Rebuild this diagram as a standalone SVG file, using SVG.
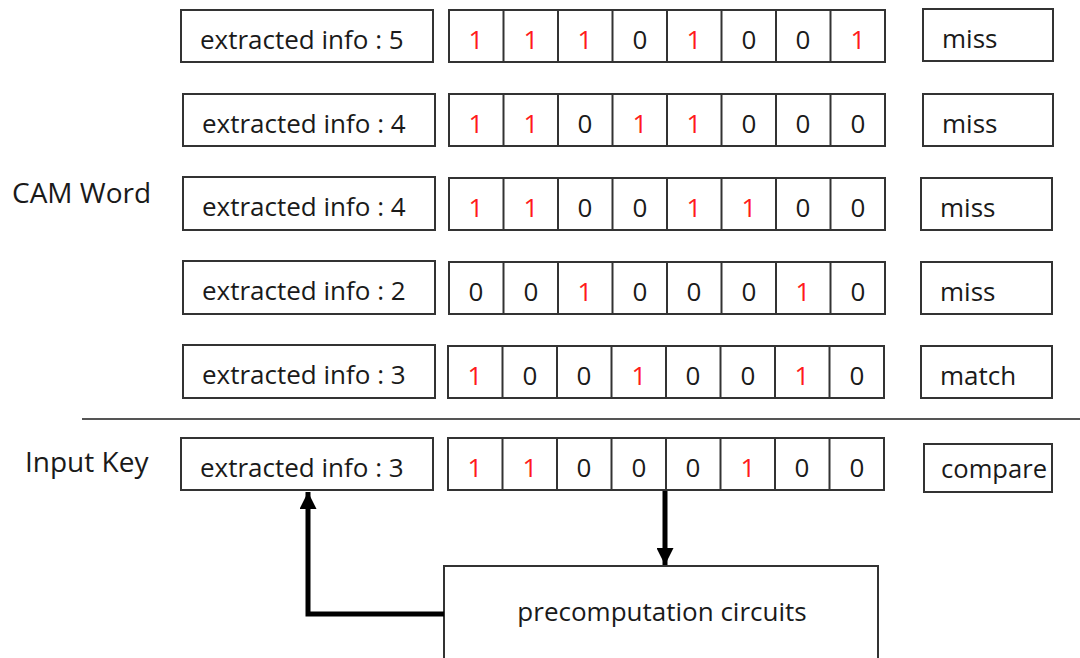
<svg xmlns="http://www.w3.org/2000/svg" width="1080" height="658" viewBox="0 0 1080 658">
  <defs>
    <style>
      .box { fill: #ffffff; stroke: #333333; stroke-width: 2; }
      .div { stroke: #333333; stroke-width: 2; }
      .t { font-family: "Open Sans", "Noto Sans", sans-serif; font-size: 26px; fill: #1a1a1a; }
      .lbl { font-size: 28px; }
      .one { fill: #ff1a1a; }
      .mid { text-anchor: middle; }
      .wire { fill: none; stroke: #000000; stroke-width: 5; }
      .rule { stroke: #555555; stroke-width: 2; }
    </style>
    <marker id="head" viewBox="0 0 10 10" refX="10" refY="5" markerWidth="3.4" markerHeight="3.4" markerUnits="strokeWidth" orient="auto">
      <path d="M0,0 L10,5 L0,10 Z" fill="#000000"/>
    </marker>
    <!-- eight-cell bit register, 54.5 px per cell -->
    <g id="reg">
      <rect class="box" x="0" y="0" width="436" height="52"/>
      <line class="div" x1="54.5" y1="0" x2="54.5" y2="52"/>
      <line class="div" x1="109" y1="0" x2="109" y2="52"/>
      <line class="div" x1="163.5" y1="0" x2="163.5" y2="52"/>
      <line class="div" x1="218" y1="0" x2="218" y2="52"/>
      <line class="div" x1="272.5" y1="0" x2="272.5" y2="52"/>
      <line class="div" x1="327" y1="0" x2="327" y2="52"/>
      <line class="div" x1="381.5" y1="0" x2="381.5" y2="52"/>
    </g>
  </defs>

  <rect width="1080" height="658" fill="#ffffff"/>

  <!-- side labels -->
  <text id="lbl-cam" class="t lbl" x="12" y="203">CAM Word</text>
  <text id="lbl-key" class="t lbl" x="25" y="472">Input Key</text>

  <!-- CAM word 1 -->
  <g id="word1">
    <rect class="box" x="181" y="10" width="252" height="52"/>
    <text class="t" x="200" y="49">extracted info : 5</text>
    <use href="#reg" x="449" y="10"/>
    <text class="t mid" y="49"><tspan class="one" x="476">1</tspan><tspan class="one" x="531">1</tspan><tspan class="one" x="585">1</tspan><tspan x="640">0</tspan><tspan class="one" x="694">1</tspan><tspan x="749">0</tspan><tspan x="803">0</tspan><tspan class="one" x="858">1</tspan></text>
    <rect class="box" x="923" y="9" width="130" height="52"/>
    <text class="t" x="942" y="48">miss</text>
  </g>

  <!-- CAM word 2 -->
  <g id="word2">
    <rect class="box" x="183" y="94" width="252" height="52"/>
    <text class="t" x="202" y="133">extracted info : 4</text>
    <use href="#reg" x="449" y="94"/>
    <text class="t mid" y="133"><tspan class="one" x="476">1</tspan><tspan class="one" x="531">1</tspan><tspan x="585">0</tspan><tspan class="one" x="640">1</tspan><tspan class="one" x="694">1</tspan><tspan x="749">0</tspan><tspan x="803">0</tspan><tspan x="858">0</tspan></text>
    <rect class="box" x="923" y="94" width="130" height="52"/>
    <text class="t" x="942" y="133">miss</text>
  </g>

  <!-- CAM word 3 -->
  <g id="word3">
    <rect class="box" x="183" y="177" width="252" height="53"/>
    <text class="t" x="202" y="216">extracted info : 4</text>
    <use href="#reg" x="449" y="178"/>
    <text class="t mid" y="217"><tspan class="one" x="476">1</tspan><tspan class="one" x="531">1</tspan><tspan x="585">0</tspan><tspan x="640">0</tspan><tspan class="one" x="694">1</tspan><tspan class="one" x="749">1</tspan><tspan x="803">0</tspan><tspan x="858">0</tspan></text>
    <rect class="box" x="921" y="178" width="131" height="52"/>
    <text class="t" x="940" y="217">miss</text>
  </g>

  <!-- CAM word 4 -->
  <g id="word4">
    <rect class="box" x="183" y="261" width="252" height="53"/>
    <text class="t" x="202" y="300">extracted info : 2</text>
    <use href="#reg" x="449" y="262"/>
    <text class="t mid" y="301"><tspan x="476">0</tspan><tspan x="531">0</tspan><tspan class="one" x="585">1</tspan><tspan x="640">0</tspan><tspan x="694">0</tspan><tspan x="749">0</tspan><tspan class="one" x="803">1</tspan><tspan x="858">0</tspan></text>
    <rect class="box" x="921" y="262" width="131" height="52"/>
    <text class="t" x="940" y="301">miss</text>
  </g>

  <!-- CAM word 5 -->
  <g id="word5">
    <rect class="box" x="183" y="345" width="252" height="53"/>
    <text class="t" x="202" y="384">extracted info : 3</text>
    <use href="#reg" x="448" y="346"/>
    <text class="t mid" y="385"><tspan class="one" x="475">1</tspan><tspan x="530">0</tspan><tspan x="584">0</tspan><tspan class="one" x="639">1</tspan><tspan x="693">0</tspan><tspan x="748">0</tspan><tspan class="one" x="802">1</tspan><tspan x="857">0</tspan></text>
    <rect class="box" x="921" y="346" width="131" height="52"/>
    <text class="t" x="940" y="385">match</text>
  </g>

  <!-- divider between stored words and the key -->
  <line id="separator" class="rule" x1="82" y1="419" x2="1080" y2="419"/>

  <!-- input key -->
  <g id="key">
    <rect class="box" x="181" y="438" width="252" height="52"/>
    <text class="t" x="200" y="477">extracted info : 3</text>
    <use href="#reg" x="448" y="438"/>
    <text class="t mid" y="477"><tspan class="one" x="475">1</tspan><tspan class="one" x="530">1</tspan><tspan x="584">0</tspan><tspan x="639">0</tspan><tspan x="693">0</tspan><tspan class="one" x="748">1</tspan><tspan x="802">0</tspan><tspan x="857">0</tspan></text>
    <rect class="box" x="924" y="444" width="128" height="48"/>
    <text class="t" x="941" y="478" font-size="24" textLength="106" lengthAdjust="spacingAndGlyphs">compare</text>
  </g>

  <!-- precomputation block -->
  <g id="precomp">
    <rect class="box" x="444" y="566" width="434" height="100"/>
    <text class="t mid" x="662" y="621">precomputation circuits</text>
  </g>

  <!-- connectors -->
  <g id="connectors">
    <path class="wire" d="M665,491 L665,565" marker-end="url(#head)"/>
    <path class="wire" d="M444,614 L308,614 L308,492" marker-end="url(#head)"/>
  </g>
</svg>
